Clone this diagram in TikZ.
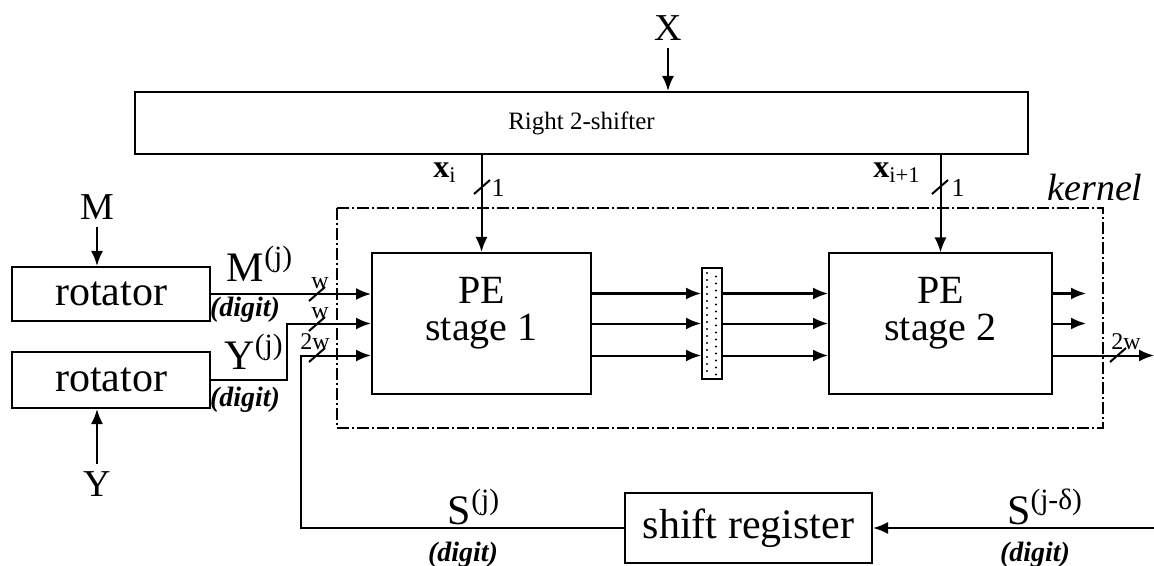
\documentclass[tikz,border=0pt]{standalone}
\usepackage{fontspec}
\setmainfont{Liberation Serif}
\usetikzlibrary{arrows.meta,calc,positioning}

\begin{document}
\begin{tikzpicture}[x=0.5pt, y=-0.5pt, line width=1pt,
	fleche/.style={-{Latex[length=7.5pt,width=6pt]}},
	bloc/.style={draw, line width=1pt, inner sep=0pt},
	noyau/.style={line width=0.9pt, dash pattern=on 6pt off 1.5pt on 1pt off 1.5pt},
	lettre/.style={font=\fontsize{19}{19}\selectfont},
	grand/.style={font=\fontsize{21}{21}\selectfont},
	bus/.style={font=\fontsize{12}{12}\selectfont, inner sep=0pt},
	digit/.style={font=\fontsize{14}{14}\selectfont\bfseries\itshape}]
	\useasboundingbox (0,0) rectangle (1154,566);
	\coordinate (bord) at (1154,0);

	% Blocs
	\node[bloc, minimum width=446.5pt, minimum height=31pt, font=\fontsize{12.5}{12.5}\selectfont] (shifter) at (581.5,123) {Right 2-shifter};
	\node[bloc, minimum width=99pt, minimum height=27pt, grand] (rotM) at (111,294) {rotator};
	\node[bloc, minimum width=99pt, minimum height=28pt, grand] (rotY) at (111,380) {rotator};
	\node[bloc, minimum width=109.5pt, minimum height=70.5pt] (PE1) at (481.5,323.5) {};
	\node[bloc, minimum width=111.5pt, minimum height=70pt] (PE2) at (940.5,323.5) {};
	\node[font=\fontsize{20}{18.5}\selectfont, align=center] (tPE1) at (481.5,313) {PE\\stage 1};
	\node[font=\fontsize{20}{18.5}\selectfont, align=center] (tPE2) at (940.5,313) {PE\\stage 2};
	\node[bloc, minimum width=123.5pt, minimum height=35pt, grand] (shiftreg) at (748.5,528) {shift register};
	\node[bloc, minimum width=10pt, minimum height=55pt] (reg) at (712,323.5) {};
	\foreach \k in {0,...,29}
	\fill ({707+mod(\k,2)*9},{273+3.5*\k}) circle (0.6pt);

	% Noyau
	\draw[noyau] (337,208) rectangle (1103,428);
	\node[font=\fontsize{19}{19}\selectfont\itshape] (kernel) at (1095,188) {kernel};

	% Entrees
	\node[lettre] (X) at (668,28) {X};
	\node[lettre] (M) at (97,207) {M};
	\node[lettre] (Y) at (97,484) {Y};
	\draw[fleche] (X) -- (X |- shifter.north);
	\draw[fleche] (M) -- (M |- rotM.north);
	\draw[fleche] (Y) -- (Y |- rotY.south);

	% Bits x_i
	\draw[fleche] (PE1.north |- shifter.south) -- (PE1.north);
	\draw[fleche] (PE2.north |- shifter.south) -- (PE2.north);
	\node[font=\fontsize{16}{16}\selectfont] (lxi) at (445,173) {\textbf{x}\textsubscript{i}};
	\node[font=\fontsize{16}{16}\selectfont] (lxj) at (897,173) {\textbf{x}\textsubscript{i+1}};
	\node[font=\fontsize{13}{13}\selectfont] (un1) at (498,188) {1};
	\node[font=\fontsize{13}{13}\selectfont] (un2) at (958,188) {1};

	% Chiffres M, Y, S
	\draw[fleche] (rotM.east) -- (rotM.east -| PE1.west);
	\draw[fleche] (rotY.east) -- ++(76,0) |- (PE1.west);
	\draw[fleche] (shiftreg.west) -- ($(shiftreg.west)+(-323,0)$) |- ($(PE1.west)+(0,32)$);
	\draw[fleche] (shiftreg.east -| bord) -- (shiftreg.east);
	\node[grand] (lM) at (260,264) {M\textsuperscript{(j)}};
	\node[grand] (lY) at (254,352) {Y\textsuperscript{(j)}};
	\node[grand] (lS) at (474,507) {S\textsuperscript{(j)}};
	\node[grand] (lSd) at (1045,507) {S\textsuperscript{(j-δ)}};
	\node[digit] (dM) at (245,310) {(digit)};
	\node[digit] (dY) at (245,400) {(digit)};
	\node[digit] (dS) at (463,555) {(digit)};
	\node[digit] (dSd) at (1035,555) {(digit)};
	\node[bus] (w1) at (320,283) {w};
	\node[bus] (w2) at (320,313) {w};
	\node[bus] (w3) at (315,342) {2w};
	\node[bus] (w4) at (1126,342) {2w};

	% Etages du pipeline
	\foreach \d in {-30,0,32} {
		\draw[fleche] ($(PE1.east)+(0,\d)$) coordinate (a) -- (a -| reg.west);
		\draw[fleche] (a -| reg.east) -- (a -| PE2.west);
	}
	\foreach \d in {-30,0}
	\draw[fleche] ($(PE2.east)+(0,\d)$) -- ++(33,0);
	\draw[fleche] ($(PE2.east)+(0,32)$) coordinate (s) -- (s -| bord);

	% Largeurs de bus
	\foreach \x/\y in {317/294, 317/324, 317/355, 482/187, 940/187, 1118/355}
	\draw (\x,\y) ++(-8,7) -- ++(16,-14);
\end{tikzpicture}
\end{document}
